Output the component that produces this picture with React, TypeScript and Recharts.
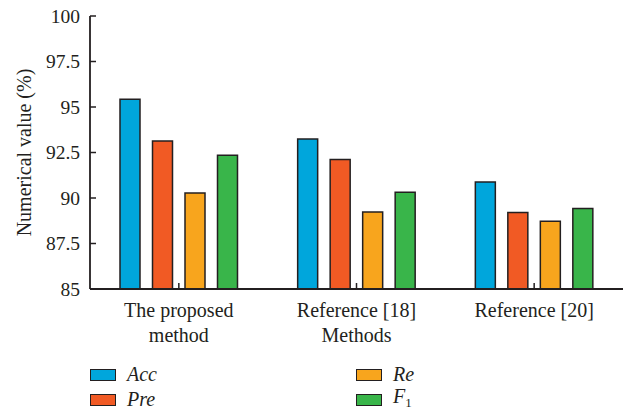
import React from "react"
import { BarChart, Bar, XAxis, YAxis, Legend } from "recharts"

const categories = ["The proposed method", "Reference [18]", "Reference [20]"]
const accValues = [95.42, 93.24, 90.88]
const preValues = [93.13, 92.11, 89.2]
const reValues = [90.27, 89.23, 88.72]
const f1Values = [92.35, 90.31, 89.42]
const yTicks = [85, 87.5, 90, 92.5, 95, 97.5, 100]

const seriesKeys = ["acc", "pre", "re", "f1"]
const seriesNames = ["Acc", "Pre", "Re", "F1"]
const seriesColors = ["#00a6dc", "#f15a24", "#f8a51d", "#39b54a"]

const data = categories.map((name, i) => ({
  name,
  acc: accValues[i],
  pre: preValues[i],
  re: reValues[i],
  f1: f1Values[i],
}))

const FONT = "'Liberation Serif', 'DejaVu Serif', serif"
const INK = "#231f20"
const axisStroke = { stroke: INK, strokeWidth: 1.8 }
const labelStyle = { fontFamily: FONT, fontSize: 20 }

// greedy word wrap by character count
function wrapWords(s: string, maxChars: number) {
  const lines: string[] = []
  let cur = ""
  for (const w of s.split(" ")) {
    const next = cur ? cur + " " + w : w
    if (next.length > maxChars && cur) {
      lines.push(cur)
      cur = w
    } else {
      cur = next
    }
  }
  if (cur) lines.push(cur)
  return lines
}

function BottomTick({ x, y, payload }: any) {
  const lines = wrapWords(String(payload.value), 14)
  return (
    <g>
      <line x1={x} y1={y} x2={x} y2={y - 6} stroke={INK} strokeWidth={1.5} />
      <text x={x} y={y + 27.5} textAnchor="middle" style={labelStyle} fill={INK}>
        {lines.map((l, i) => (
          <tspan key={i} x={x} dy={i === 0 ? 0 : 25}>
            {l}
          </tspan>
        ))}
      </text>
    </g>
  )
}

function TopTick({ x, y }: any) {
  return <line x1={x} y1={y} x2={x} y2={y + 6} stroke={INK} strokeWidth={1.5} />
}

function LeftTick({ x, y, payload }: any) {
  return (
    <g>
      <line x1={x} y1={y} x2={x + 6} y2={y} stroke={INK} strokeWidth={1.5} />
      <text x={x - 10} y={y} dy="0.35em" textAnchor="end" style={{ fontFamily: FONT, fontSize: 19.5 }} fill={INK}>
        {payload.value}
      </text>
    </g>
  )
}

function RightTick({ x, y }: any) {
  return <line x1={x} y1={y} x2={x - 6} y2={y} stroke={INK} strokeWidth={1.5} />
}

function LegendBox() {
  const colLeft = [90, 356]
  return (
    <div style={{ position: "relative", width: 636, height: 56, fontFamily: FONT, color: INK }}>
      {seriesNames.map((name, i) => {
        const col = Math.floor(i / 2)
        const row = i % 2
        return (
          <div
            key={name}
            style={{
              position: "absolute",
              left: colLeft[col],
              top: 3 + row * 25,
              height: 25,
              display: "flex",
              alignItems: "center",
            }}
          >
            <span
              style={{
                width: 24,
                height: 10,
                background: seriesColors[i],
                border: `1.5px solid ${INK}`,
                display: "inline-block",
              }}
            />
            <span style={{ marginLeft: 11, fontSize: 20, fontStyle: "italic", lineHeight: "25px" }}>
              {name === "F1" ? (
                <>
                  F<sub style={{ fontSize: 13, fontStyle: "normal", verticalAlign: "-4px" }}>1</sub>
                </>
              ) : (
                name
              )}
            </span>
          </div>
        )
      })}
    </div>
  )
}

export default function App() {
  return (
    <div style={{ position: "absolute", left: 0, top: 0, background: "#fff" }}>
      <BarChart
        width={636}
        height={415}
        data={data}
        margin={{ top: 16, right: 13, left: 0, bottom: 0 }}
        barSize={20}
        barGap={12.5}
      >
        <XAxis
          dataKey="name"
          height={70}
          axisLine={axisStroke}
          tickLine={false}
          tickSize={0}
          tickMargin={0}
          tick={<BottomTick />}
          interval={0}
          label={(props: any) => {
            const vb = props.viewBox
            return (
              <text
                x={vb.x + vb.width / 2}
                y={vb.y + 53}
                textAnchor="middle"
                style={labelStyle}
                fill={INK}
              >
                Methods
              </text>
            )
          }}
        />
        <XAxis
          xAxisId="top"
          dataKey="name"
          orientation="top"
          height={0}
          axisLine={axisStroke}
          tickLine={false}
          tickSize={0}
          tickMargin={0}
          tick={<TopTick />}
          interval={0}
        />
        <YAxis
          width={90}
          domain={[85, 100]}
          ticks={yTicks}
          type="number"
          axisLine={axisStroke}
          tickLine={false}
          tickSize={0}
          tickMargin={0}
          tick={<LeftTick />}
          interval={0}
          label={(props: any) => {
            const vb = props.viewBox
            const cx = vb.x + 31
            const cy = vb.y + vb.height / 2
            return (
              <text
                x={cx}
                y={cy}
                transform={`rotate(-90, ${cx}, ${cy})`}
                textAnchor="middle"
                style={labelStyle}
                fill={INK}
              >
                Numerical value (%)
              </text>
            )
          }}
        />
        <YAxis
          yAxisId="right"
          orientation="right"
          width={0}
          domain={[85, 100]}
          ticks={yTicks}
          type="number"
          axisLine={axisStroke}
          tickLine={false}
          tickSize={0}
          tickMargin={0}
          tick={<RightTick />}
          interval={0}
        />
        <Legend
          verticalAlign="bottom"
          content={<LegendBox />}
          wrapperStyle={{ left: 0, width: 636, height: 56 }}
        />
        {seriesKeys.map((key, i) => (
          <Bar
            key={key}
            dataKey={key}
            name={seriesNames[i]}
            fill={seriesColors[i]}
            stroke={INK}
            strokeWidth={1.5}
            isAnimationActive={false}
          />
        ))}
      </BarChart>
    </div>
  )
}
